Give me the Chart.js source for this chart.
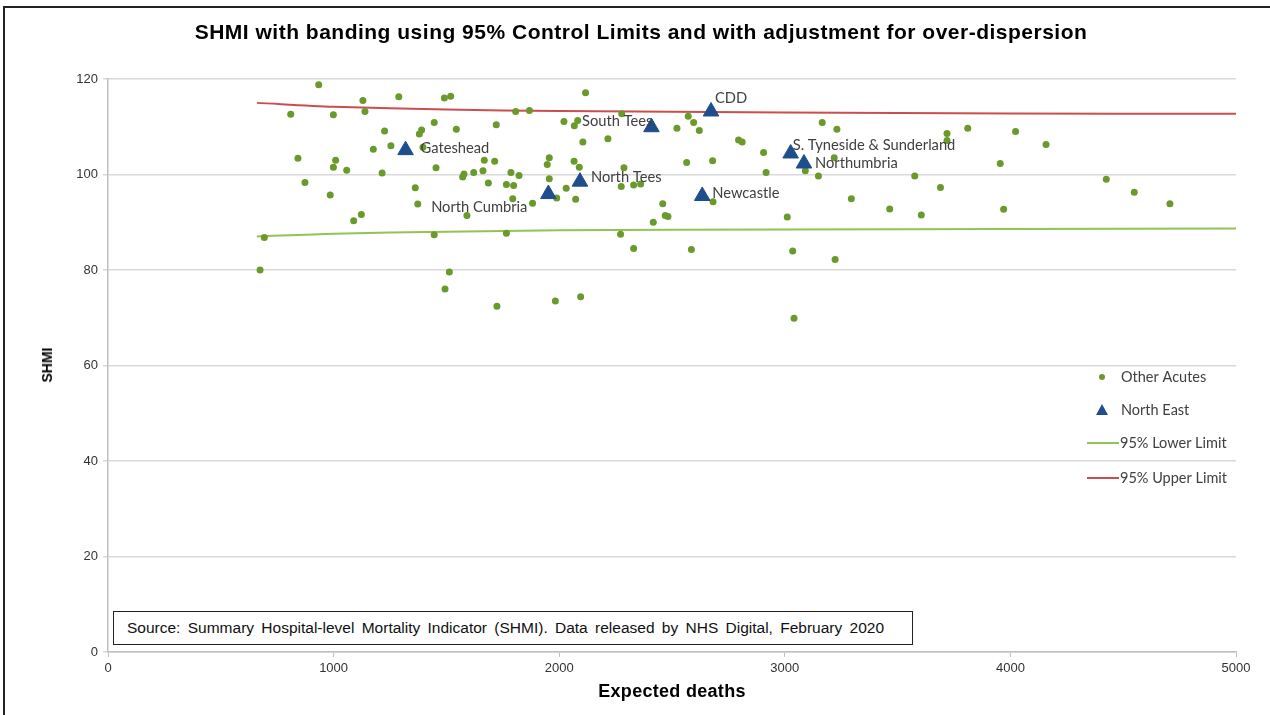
<!DOCTYPE html>
<html>
<head>
<meta charset="utf-8">
<script src="https://cdn.jsdelivr.net/npm/chart.js@4.4.1/dist/chart.umd.min.js"></script>
<style>
  body { margin: 0; background: #fff; overflow: hidden; }
  #wrap { position: relative; width: 1270px; height: 715px; }
  #frame { position: absolute; left: 3px; top: 6px; width: 1300px; height: 720px;
           border-top: 2px solid #222; border-left: 2px solid #222; }
  #myChart { position: absolute; left: 0; top: 0; }
  .txt { position: absolute; font-family: "Liberation Sans", Arial, sans-serif; color: #000; white-space: nowrap; }
  #title { left: 0; width: 1282px; top: 20px; text-align: center; font-size: 21px; letter-spacing: 0.5px; font-weight: bold; }
  #xtitle { left: 0; width: 1344px; top: 681px; text-align: center; font-size: 18px; letter-spacing: 0.3px; font-weight: bold; }
  #ytitle { left: 47px; top: 365px; font-size: 14px; font-weight: bold; transform: translate(-50%, -50%) rotate(-90deg); }
  #source { left: 113px; top: 611px; width: 798px; height: 32px; border: 1.5px solid #222; background: #fff;
            font-size: 15.5px; line-height: 32px; text-indent: 13px; word-spacing: 3px; color: #111; }
</style>
</head>
<body>
<div id="wrap">
  <div id="frame"></div>
  <canvas id="myChart" width="1270" height="715"></canvas>
  <div class="txt" id="title">SHMI with banding using 95% Control Limits and with adjustment for over-dispersion</div>
  <div class="txt" id="ytitle">SHMI</div>
  <div class="txt" id="xtitle">Expected deaths</div>
  <div class="txt" id="source">Source: Summary Hospital-level Mortality Indicator (SHMI). Data released by NHS Digital, February 2020</div>
</div>
<script>
// Other acute trusts: expected deaths / SHMI
const otherX = [934, 810, 999, 1130, 1139, 1289, 1491, 1519, 1807, 1868, 1446, 1226, 1390, 1380, 1544, 1721,
  1176, 1254, 1396, 842, 1009, 999, 1058, 1215, 1454, 1668, 1714, 1572, 1578, 1621, 1662, 1786, 1822, 1686,
  1766, 1798, 873, 985, 1362, 1373, 1591, 1794, 1882, 1089, 1123, 693, 1446, 1766, 674, 1513, 1494, 1724,
  1983, 2095, 2272, 2330, 2073, 1989, 2117, 2277, 2572, 2596, 2621, 2522, 2021, 2067, 2082, 2105, 2216,
  2795, 2811, 3166, 2906, 2917, 3091, 3149, 1956, 1947, 2066, 2089, 2287, 2565, 2680, 1956, 2031, 2275,
  2330, 2361, 2682, 2459, 2470, 2482, 2417, 3011, 2586, 3035, 3041, 3223, 3295, 3465, 3231, 3719, 3719,
  3811, 4023, 4158, 3219, 3576, 3690, 3605, 3970, 3955, 4425, 4549, 4707];
const otherY = [118.8, 112.6, 112.5, 115.5, 113.2, 116.3, 116.0, 116.4, 113.2, 113.4, 110.9, 109.1, 109.3, 108.5, 109.5, 110.4,
  105.3, 106.0, 105.7, 103.4, 103.0, 101.5, 100.9, 100.3, 101.4, 103.0, 102.8, 99.5, 100.1, 100.4, 100.8, 100.4, 99.8, 98.2,
  97.9, 97.7, 98.3, 95.7, 97.2, 93.8, 91.4, 94.9, 94.0, 90.3, 91.6, 86.8, 87.4, 87.7, 80.0, 79.6, 76.0, 72.4,
  73.5, 74.4, 87.5, 84.5, 94.8, 95.1, 117.1, 112.7, 112.2, 110.9, 109.2, 109.7, 111.1, 110.2, 111.3, 106.8, 107.5,
  107.2, 106.8, 110.9, 104.6, 100.4, 100.8, 99.7, 103.5, 102.1, 102.8, 101.5, 101.4, 102.5, 102.9, 99.1, 97.1, 97.5,
  97.8, 98.0, 94.3, 93.9, 91.4, 91.2, 90.0, 91.1, 84.3, 84.0, 69.9, 82.2, 94.9, 92.8, 109.5, 108.6, 107.1,
  109.7, 109.0, 106.3, 103.5, 99.7, 97.3, 91.5, 92.7, 102.3, 99.0, 96.3, 93.9];

// North East trusts
const neNames = ["Gateshead", "North Cumbria", "North Tees", "South Tees", "CDD", "Newcastle",
  "S. Tyneside & Sunderland", "Northumbria"];
const neX = [1319, 1952, 2092, 2409, 2673, 2634, 3026, 3085];
const neY = [105.1, 95.9, 98.5, 109.9, 113.2, 95.5, 104.4, 102.3];

// control limits
const limitX = [660, 1000, 1500, 2000, 3000, 4000, 5000];
const lowerLimit = [87.0, 87.6, 88.0, 88.3, 88.5, 88.6, 88.7];
const upperLimit = [115.0, 114.2, 113.6, 113.3, 113.0, 112.8, 112.7];

const xTicks = [0, 1000, 2000, 3000, 4000, 5000];
const yTicks = [0, 20, 40, 60, 80, 100, 120];

function toPoints(xs, ys) {
  return xs.map(function (x, i) { return { x: x, y: ys[i] }; });
}

// label placement next to each triangle [dx, dy, align]
const labelPos = [[15, -2, "left"], [-21, 13, "right"], [11, -4, "left"], [1, -6, "right"],
  [4, -13, "left"], [10, -3, "left"], [2, -8, "left"], [11, 0, "left"]];

const neLabels = {
  id: "neLabels",
  afterDatasetsDraw: function (chart) {
    const ctx = chart.ctx;
    const meta = chart.getDatasetMeta(0);
    ctx.save();
    ctx.font = "14.7px Lato, 'Open Sans', sans-serif";
    ctx.fillStyle = "#404040";
    ctx.textBaseline = "middle";
    meta.data.forEach(function (pt, i) {
      const p = labelPos[i];
      ctx.textAlign = p[2];
      ctx.fillText(neNames[i], pt.x + p[0], pt.y + p[1]);
    });
    ctx.restore();
  }
};

const legendBox = {
  id: "legendBox",
  afterDraw: function (chart) {
    const ctx = chart.ctx;
    const items = chart.data.datasets;
    // legend rows in display order
    const rows = [1, 0, 2, 3];
    const ys = [377, 410, 443, 478];
    ctx.save();
    ctx.font = "14.5px Lato, 'Open Sans', sans-serif";
    ctx.textBaseline = "middle";
    ctx.textAlign = "left";
    rows.forEach(function (d, i) {
      const ds = items[d];
      const y = ys[i];
      if (ds.showLine) {
        ctx.strokeStyle = ds.borderColor;
        ctx.lineWidth = 2;
        ctx.beginPath();
        ctx.moveTo(1087, y);
        ctx.lineTo(1119, y);
        ctx.stroke();
      } else {
        ctx.fillStyle = ds.backgroundColor;
        ctx.beginPath();
        if (ds.pointStyle === "triangle") {
          ctx.moveTo(1102, y - 6);
          ctx.lineTo(1108, y + 5);
          ctx.lineTo(1096, y + 5);
        } else {
          ctx.arc(1102, y, 3, 0, Math.PI * 2);
        }
        ctx.closePath();
        ctx.fill();
      }
      ctx.fillStyle = "#404040";
      ctx.fillText(ds.label, ds.showLine ? 1120 : 1121, y);
    });
    ctx.restore();
  }
};

const ctx = document.getElementById("myChart").getContext("2d");
const myChart = new Chart(ctx, {
  type: "scatter",
  data: {
    datasets: [
      {
        label: "North East",
        data: toPoints(neX, neY),
        pointStyle: "triangle",
        pointRadius: 9,
        backgroundColor: "#1f4e8c",
        borderColor: "#1f4e8c",
        borderWidth: 1,
        order: 0
      },
      {
        label: "Other Acutes",
        data: toPoints(otherX, otherY),
        pointStyle: "circle",
        pointRadius: 3.5,
        backgroundColor: "#6a9a2c",
        borderColor: "#6a9a2c",
        borderWidth: 0,
        order: 1
      },
      {
        label: "95% Lower Limit",
        data: toPoints(limitX, lowerLimit),
        showLine: true,
        pointRadius: 0,
        borderColor: "#93c257",
        borderWidth: 2,
        tension: 0.3,
        order: 2
      },
      {
        label: "95% Upper Limit",
        data: toPoints(limitX, upperLimit),
        showLine: true,
        pointRadius: 0,
        borderColor: "#cc4d4d",
        borderWidth: 2,
        tension: 0.3,
        order: 3
      }
    ]
  },
  options: {
    responsive: false,
    animation: false,
    layout: { padding: { top: 79, right: 34, bottom: 0, left: 0 } },
    plugins: {
      legend: { display: false },
      title: { display: false },
      tooltip: { enabled: false }
    },
    scales: {
      x: {
        type: "linear",
        min: 0,
        max: 5000,
        afterFit: function (scale) { scale.height = 63; },
        afterBuildTicks: function (scale) {
          scale.ticks = xTicks.map(function (v) { return { value: v }; });
        },
        grid: { drawOnChartArea: false, tickLength: 5, color: "#bfbfbf" },
        border: { color: "#bfbfbf", width: 1.5 },
        ticks: {
          color: "#333", font: { family: "Liberation Sans, Arial", size: 13 }, padding: 4, maxRotation: 0,
          callback: function (v) { return String(v); }
        }
      },
      y: {
        min: 0,
        max: 120,
        afterFit: function (scale) { scale.width = 108; },
        afterBuildTicks: function (scale) {
          scale.ticks = yTicks.map(function (v) { return { value: v }; });
        },
        grid: { color: "#d9d9d9", lineWidth: 1.5, tickLength: 5 },
        border: { color: "#bfbfbf", width: 1.5 },
        ticks: {
          color: "#333", font: { family: "Liberation Sans, Arial", size: 13 }, padding: 5,
          callback: function (v) { return String(v); }
        }
      }
    }
  },
  plugins: [neLabels, legendBox]
});
</script>
</body>
</html>
